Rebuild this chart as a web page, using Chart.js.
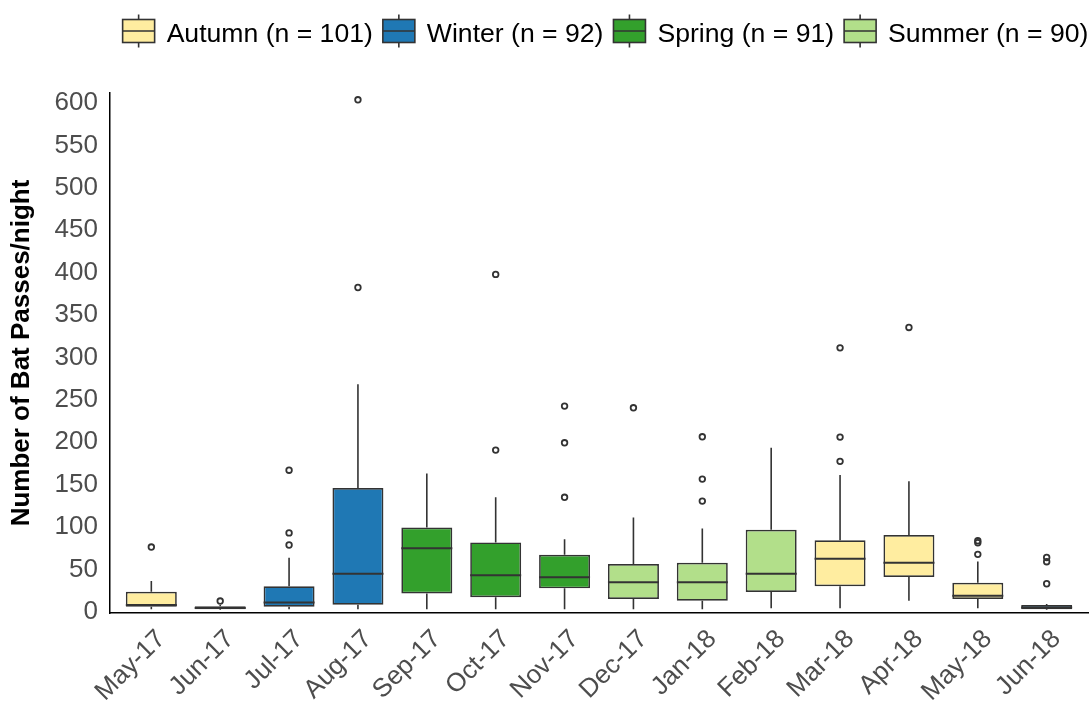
<!DOCTYPE html>
<html><head><meta charset="utf-8">
<script src="https://cdn.jsdelivr.net/npm/chart.js@4.4.1/dist/chart.umd.min.js"></script>
<style>html,body{margin:0;padding:0;background:#fff}#wrap{width:1092px;height:706px;position:relative}</style>
</head><body><div id="wrap"><canvas id="c" width="1092" height="706"></canvas></div>
<script>
const categories = ['May-17','Jun-17','Jul-17','Aug-17','Sep-17','Oct-17','Nov-17','Dec-17','Jan-18','Feb-18','Mar-18','Apr-18','May-18','Jun-18'];
const monthSeason = ['Autumn','Winter','Winter','Winter','Spring','Spring','Spring','Summer','Summer','Summer','Autumn','Autumn','Autumn','Winter'];
const seasons = ['Autumn','Winter','Spring','Summer'];
const seasonN = [101, 92, 91, 90];
const seasonColors = ['#FFEDA0','#1F78B4','#33A02C','#B2DF8A'];
const whiskerLow  = [3, 2, 3, 3, 3, 3, 3, 3, 3, 4, 4, 13, 4, 2];
const q1          = [5.9, 3, 5.9, 8.3, 21.5, 17, 27.6, 15, 13, 23.2, 30, 41, 15, 3];
const median      = [7.9, 4.5, 11, 44.8, 75, 43, 40.6, 34.7, 34.7, 44.8, 62.5, 57.8, 18.9, 5];
const q3          = [23.6, 6.5, 30, 146, 99.3, 81.8, 67.2, 56.3, 57.8, 96.7, 84.2, 90.4, 34.2, 8];
const whiskerHigh = [36.2, 8, 63.7, 268.5, 163, 135, 85.4, 111.3, 98.3, 193.4, 161.2, 154, 59.4, 9];
const outliers = [[76.3],[12.6],[167,93,78.7],[604,382.5],[],[398,190.7],[242.6,199.3,135],[240.6],[206.4,156.5,130.5],[],[311.3,206,177.4],[335.4],[83.7,81.4,67.7],[64,59,33]];
const yTicks = [0,50,100,150,200,250,300,350,400,450,500,550,600];

const FONT = "'Liberation Sans', Arial, Helvetica, sans-serif";
Chart.defaults.font.family = FONT;
const INK = '#333333';

function colorFor(i){ return seasonColors[seasons.indexOf(monthSeason[i])]; }

const boxExtras = {
  id: 'boxExtras',
  afterDatasetsDraw(chart){
    const ctx = chart.ctx, y = chart.scales.y, x = chart.scales.x;
    const meta = chart.getDatasetMeta(0);
    ctx.save();
    ctx.strokeStyle = INK;
    categories.forEach((c,i)=>{
      const el = meta.data[i];
      const cx = x.getPixelForValue(i);
      const half = el.width/2;
      ctx.lineWidth = 1.6;
      ctx.beginPath();
      ctx.moveTo(cx, y.getPixelForValue(q3[i])); ctx.lineTo(cx, y.getPixelForValue(whiskerHigh[i]));
      ctx.moveTo(cx, y.getPixelForValue(q1[i])); ctx.lineTo(cx, y.getPixelForValue(whiskerLow[i]));
      ctx.stroke();
      ctx.lineWidth = 2;
      ctx.beginPath();
      const my = y.getPixelForValue(median[i]);
      ctx.moveTo(cx-half, my); ctx.lineTo(cx+half, my);
      ctx.stroke();
      ctx.lineWidth = 1.8;
      outliers[i].forEach(v=>{
        ctx.beginPath();
        ctx.arc(cx, y.getPixelForValue(v), 2.8, 0, Math.PI*2);
        ctx.stroke();
      });
    });
    ctx.restore();
  }
};

const boxLegend = {
  id: 'boxLegend',
  afterDraw(chart){
    const ctx = chart.ctx;
    ctx.save();
    ctx.font = '26.6px ' + FONT;
    const iconW = 32, iconH = 23, gapIT = 12, gapItem = 10;
    const labels = seasons.map((s,k)=> s + ' (n = ' + seasonN[k] + ')');
    const widths = labels.map(l=>ctx.measureText(l).width);
    const total = widths.reduce((a,w)=>a+iconW+gapIT+w,0) + gapItem*(labels.length-1);
    let xPos = 605.5 - total/2;
    const cy = 31;
    labels.forEach((l,k)=>{
      ctx.strokeStyle = INK; ctx.lineWidth = 1.6;
      ctx.fillStyle = seasonColors[k];
      ctx.fillRect(xPos, cy-iconH/2, iconW, iconH);
      ctx.strokeRect(xPos, cy-iconH/2, iconW, iconH);
      ctx.beginPath();
      ctx.moveTo(xPos, cy); ctx.lineTo(xPos+iconW, cy);
      ctx.moveTo(xPos+iconW/2, cy-iconH/2); ctx.lineTo(xPos+iconW/2, cy-iconH/2-5);
      ctx.moveTo(xPos+iconW/2, cy+iconH/2); ctx.lineTo(xPos+iconW/2, cy+iconH/2+5);
      ctx.stroke();
      ctx.fillStyle = '#000';
      ctx.textBaseline = 'middle';
      ctx.textAlign = 'left';
      ctx.fillText(l, xPos+iconW+gapIT, cy+4);
      xPos += iconW + gapIT + widths[k] + gapItem;
    });
    ctx.restore();
  }
};

new Chart(document.getElementById('c'), {
  type: 'bar',
  data: {
    datasets: [{
      data: categories.map((c,i)=>({x:i, y:[q1[i], q3[i]]})),
      backgroundColor: categories.map((c,i)=>colorFor(i)),
      borderColor: INK,
      borderWidth: 1.7,
      borderSkipped: false,
      barPercentage: 0.74,
      categoryPercentage: 1
    }]
  },
  options: {
    responsive: false,
    animation: false,
    layout: { padding: { top: 93, right: 4, bottom: 0, left: 0 } },
    plugins: { legend: { display: false }, tooltip: { enabled: false } },
    scales: {
      x: {
        type: 'linear', min: -0.6, max: 13.6, offset: false,
        afterBuildTicks: s => { s.ticks = categories.map((c,i)=>({value:i})); },
        grid: { display: false, drawTicks: false, offset: false },
        border: { display: true, color: '#000', width: 1.5 },
        ticks: { autoSkip: false, maxRotation: 45, minRotation: 45, color: '#4D4D4D', font: { size: 26 }, padding: 11, labelOffset: 10,
          callback: v => categories[v] },
        afterFit: s => { s.height = 93; s.paddingLeft = 0; s.paddingRight = 0; }
      },
      y: {
        type: 'linear', min: -1.5, max: 612,
        afterBuildTicks: s => { s.ticks = yTicks.map(v=>({value:v})); },
        grid: { display: false, drawTicks: false },
        border: { display: true, color: '#000', width: 1.5 },
        ticks: { color: '#4D4D4D', font: { size: 26 }, padding: 12 },
        title: { display: true, text: 'Number of Bat Passes/night', color: '#000', font: { size: 26, weight: 'bold' }, padding: { top: 6, bottom: 0 } },
        afterFit: s => { s.width = 110; }
      }
    }
  },
  plugins: [boxExtras, boxLegend]
});
</script></body></html>
